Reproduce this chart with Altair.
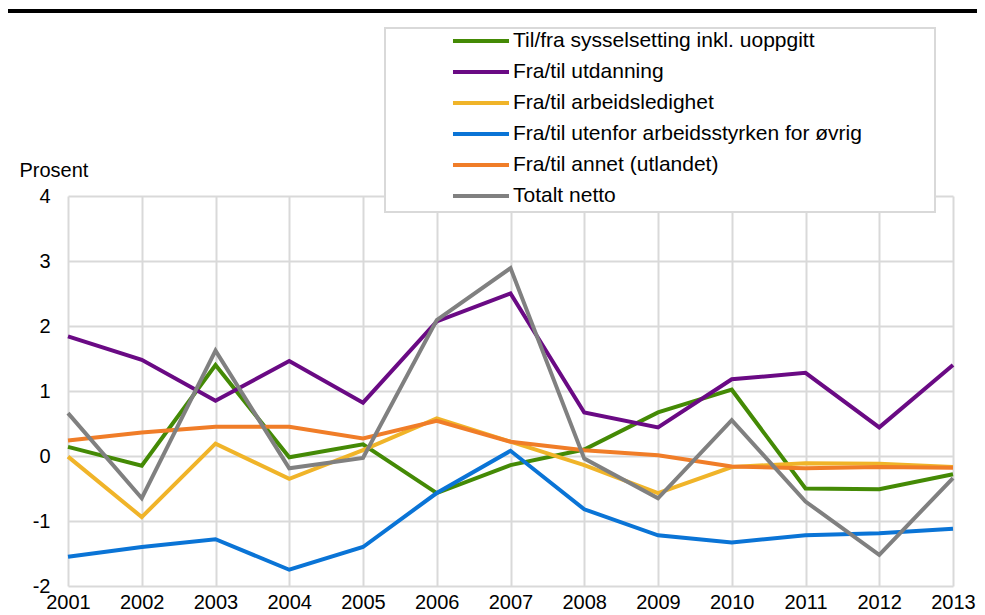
import altair as alt
import pandas as pd

years = list(range(2001, 2014))
series_names = [
    "Til/fra sysselsetting inkl. uoppgitt",
    "Fra/til utdanning",
    "Fra/til arbeidsledighet",
    "Fra/til utenfor arbeidsstyrken for øvrig",
    "Fra/til annet (utlandet)",
    "Totalt netto",
]
series_colors = ["#448a05", "#6a0a84", "#f0b429", "#0a74d6", "#f07d28", "#808080"]

sysselsetting = [0.14, -0.15, 1.40, -0.02, 0.18, -0.57, -0.14, 0.10, 0.67, 1.02, -0.50, -0.51, -0.28]
utdanning = [1.84, 1.48, 0.85, 1.46, 0.82, 2.07, 2.50, 0.67, 0.44, 1.18, 1.28, 0.44, 1.40]
arbeidsledighet = [-0.01, -0.94, 0.19, -0.35, 0.09, 0.58, 0.22, -0.14, -0.57, -0.17, -0.11, -0.12, -0.17]
utenfor = [-1.55, -1.40, -1.28, -1.75, -1.40, -0.57, 0.08, -0.82, -1.22, -1.33, -1.22, -1.19, -1.12]
annet = [0.24, 0.36, 0.45, 0.45, 0.27, 0.54, 0.22, 0.09, 0.01, -0.16, -0.19, -0.17, -0.18]
totalt = [0.66, -0.65, 1.62, -0.19, -0.03, 2.09, 2.89, -0.04, -0.65, 0.55, -0.70, -1.52, -0.34]

y_ticks = [-2, -1, 0, 1, 2, 3, 4]

all_series = [sysselsetting, utdanning, arbeidsledighet, utenfor, annet, totalt]
rows = []
for idx, (name, vals) in enumerate(zip(series_names, all_series)):
    for yr, v in zip(years, vals):
        rows.append({"År": yr, "Verdi": v, "Serie": name, "ord": idx})
df = pd.DataFrame(rows)

FONT = "Liberation Sans"

lines = alt.Chart(df).mark_line(strokeWidth=4, strokeCap="butt", strokeJoin="miter").encode(
    x=alt.X("År:Q",
            scale=alt.Scale(domain=[2001, 2013], nice=False, zero=False),
            axis=alt.Axis(values=years, labelExpr="'' + datum.value", title=None, tickSize=0,
                          labelPadding=6, labelFontSize=20, labelFont=FONT,
                          labelColor="#000000", domain=False,
                          gridColor="#d9d9d9", gridWidth=2, labelOverlap=False,
                          labelFlush=False)),
    y=alt.Y("Verdi:Q",
            scale=alt.Scale(domain=[-2, 4], nice=False, zero=False),
            axis=alt.Axis(values=y_ticks, labelExpr="'' + datum.value", title="Prosent",
                          titleAngle=0, titleAlign="left", titleBaseline="alphabetic",
                          titleX=-49, titleY=-20, titleFontSize=20, titleFont=FONT,
                          titleFontWeight="normal", titleColor="#000000",
                          tickSize=0, labelPadding=18, labelFontSize=20, labelFont=FONT,
                          labelColor="#000000", domain=False,
                          gridColor="#d9d9d9", gridWidth=2)),
    color=alt.Color("Serie:N",
                    scale=alt.Scale(domain=series_names, range=series_colors),
                    legend=alt.Legend(title=None, orient="none", legendX=393, legendY=-175,
                                      symbolType="M-1.556,0H1.556", symbolStrokeWidth=4,
                                      symbolSize=1296, labelFontSize=21, labelFont=FONT,
                                      labelColor="#000000", labelOffset=12, rowPadding=1,
                                      labelLimit=500, padding=0)),
    order=alt.Order("ord:Q"),
    detail="Serie:N",
)

box = alt.Chart(pd.DataFrame({"a": [0]})).mark_rect(
    fill="white", stroke="#d9d9d9", strokeWidth=2
).encode(x=alt.value(317), x2=alt.value(867), y=alt.value(-168), y2=alt.value(16))

top_rule = alt.Chart(pd.DataFrame({"a": [0]})).mark_rule(
    color="black", strokeWidth=4
).encode(x=alt.value(-70), x2=alt.value(930), y=alt.value(-185))

chart = alt.layer(lines, box, top_rule).properties(
    width=885, height=390,
    autosize=alt.AutoSizeParams(type="none"),
    padding={"left": 60, "top": 188, "right": 24, "bottom": 25},
).configure_view(stroke=None)

chart.save("out.html", embed_options={"renderer": "svg", "actions": False})
